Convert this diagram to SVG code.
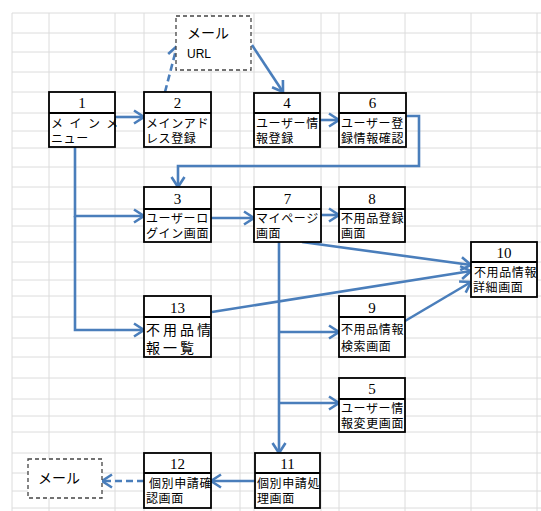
<svg xmlns="http://www.w3.org/2000/svg" width="541" height="511" viewBox="0 0 541 511">
<style>
.grid line{stroke:#dcdcdc;stroke-width:1}
.box{fill:#fff;stroke:#000;stroke-width:1.8}
.num{font-family:"Liberation Serif",serif;font-size:15px;text-anchor:middle;fill:#000}
.bt{font-family:"Liberation Sans","Noto Sans CJK JP",sans-serif;font-size:12px;letter-spacing:0.6px;fill:#000}
.mail{fill:#fff;stroke:#444;stroke-width:1.3;stroke-dasharray:4 3}
.mt{font-family:"Liberation Sans","Noto Sans CJK JP",sans-serif;font-size:14px;fill:#000}
.c{fill:none;stroke:#4a7ebb;stroke-width:2.6}
.d{stroke-dasharray:7 4}
</style>
<defs>
<marker id="a" markerUnits="userSpaceOnUse" markerWidth="16" markerHeight="16" refX="13" refY="8" orient="auto">
<path d="M3,1.5 L13,8 L3,14.5" fill="none" stroke="#4a7ebb" stroke-width="2.6"/>
</marker>
</defs>
<rect width="541" height="511" fill="#fff"/>
<g class="grid">
<line x1="12" y1="13" x2="12" y2="511"/><line x1="49" y1="13" x2="49" y2="511"/><line x1="115" y1="13" x2="115" y2="511"/><line x1="144" y1="13" x2="144" y2="511"/><line x1="211" y1="13" x2="211" y2="511"/><line x1="240" y1="13" x2="240" y2="511"/><line x1="254" y1="13" x2="254" y2="511"/><line x1="321" y1="13" x2="321" y2="511"/><line x1="339" y1="13" x2="339" y2="511"/><line x1="405" y1="13" x2="405" y2="511"/><line x1="471" y1="13" x2="471" y2="511"/><line x1="537" y1="13" x2="537" y2="511"/>
<line x1="12" y1="13" x2="541" y2="13"/><line x1="12" y1="33" x2="541" y2="33"/><line x1="12" y1="52" x2="541" y2="52"/><line x1="12" y1="72" x2="541" y2="72"/><line x1="12" y1="92" x2="541" y2="92"/><line x1="12" y1="113" x2="541" y2="113"/><line x1="12" y1="131" x2="541" y2="131"/><line x1="12" y1="148" x2="541" y2="148"/><line x1="12" y1="167" x2="541" y2="167"/><line x1="12" y1="187" x2="541" y2="187"/><line x1="12" y1="209" x2="541" y2="209"/><line x1="12" y1="226" x2="541" y2="226"/><line x1="12" y1="242" x2="541" y2="242"/><line x1="12" y1="262" x2="541" y2="262"/><line x1="12" y1="280" x2="541" y2="280"/><line x1="12" y1="296" x2="541" y2="296"/><line x1="12" y1="317" x2="541" y2="317"/><line x1="12" y1="338" x2="541" y2="338"/><line x1="12" y1="357" x2="541" y2="357"/><line x1="12" y1="378" x2="541" y2="378"/><line x1="12" y1="399" x2="541" y2="399"/><line x1="12" y1="416" x2="541" y2="416"/><line x1="12" y1="432" x2="541" y2="432"/><line x1="12" y1="453" x2="541" y2="453"/><line x1="12" y1="473" x2="541" y2="473"/><line x1="12" y1="491" x2="541" y2="491"/><line x1="12" y1="508" x2="541" y2="508"/>
</g>
<g id="connectors">
<line class="c" x1="115" y1="117" x2="144" y2="117" marker-end="url(#a)"/>
<line class="c d" x1="165" y1="92" x2="177" y2="46" marker-end="url(#a)"/>
<line class="c" x1="252" y1="45" x2="283" y2="92" marker-end="url(#a)"/>
<line class="c" x1="320" y1="120" x2="339" y2="120" marker-end="url(#a)"/>
<polyline class="c" points="406,116 419,116 419,166 178,166 178,187" marker-end="url(#a)"/>
<polyline class="c" points="75,147 75,216 144,216" marker-end="url(#a)"/>
<polyline class="c" points="75,216 75,330 144,330" marker-end="url(#a)"/>
<line class="c" x1="211" y1="218" x2="254" y2="218" marker-end="url(#a)"/>
<line class="c" x1="321" y1="215" x2="339" y2="215" marker-end="url(#a)"/>
<line class="c" x1="302" y1="242" x2="471" y2="265" marker-end="url(#a)"/>
<line class="c" x1="212" y1="312" x2="471" y2="271" marker-end="url(#a)"/>
<line class="c" x1="405" y1="321" x2="471" y2="282" marker-end="url(#a)"/>
<line class="c" x1="279" y1="242" x2="279" y2="453" marker-end="url(#a)"/>
<line class="c" x1="279" y1="332" x2="339" y2="332" marker-end="url(#a)"/>
<line class="c" x1="279" y1="403" x2="339" y2="403" marker-end="url(#a)"/>
<line class="c" x1="255" y1="481" x2="211" y2="481" marker-end="url(#a)"/>
<line class="c d" x1="144" y1="481" x2="102" y2="481" marker-end="url(#a)"/>
</g>
<g id="mail1">
<rect class="mail" x="176" y="16" width="75" height="54"/>
<text class="mt" x="187" y="38">メール</text>
<text x="187" y="58" font-family="Liberation Sans,sans-serif" font-size="12">URL</text>
</g>
<g id="mail2">
<rect class="mail" x="28" y="459" width="74" height="39"/>
<text class="mt" x="38" y="483">メール</text>
</g>
<g id="n1">
<rect class="box" x="49" y="92" width="66" height="55"/><line class="box" x1="49" y1="113" x2="115" y2="113"/>
<text class="num" x="82" y="108">1</text>
<text class="bt" x="51" y="128" style="letter-spacing:6.5px">メインメ</text>
<text class="bt" x="51" y="143">ニュー</text>
</g>
<g id="n2">
<rect class="box" x="144" y="92" width="67" height="55"/><line class="box" x1="144" y1="113" x2="211" y2="113"/>
<text class="num" x="177.5" y="108">2</text>
<text class="bt" x="146" y="128">メインアド</text>
<text class="bt" x="146" y="143">レス登録</text>
</g>
<g id="n4">
<rect class="box" x="254" y="93" width="66" height="54"/><line class="box" x1="254" y1="113" x2="320" y2="113"/>
<text class="num" x="287" y="108">4</text>
<text class="bt" x="256" y="128">ユーザー情</text>
<text class="bt" x="256" y="143">報登録</text>
</g>
<g id="n6">
<rect class="box" x="339" y="93" width="67" height="54"/><line class="box" x1="339" y1="113" x2="406" y2="113"/>
<text class="num" x="372.5" y="108">6</text>
<text class="bt" x="341" y="128">ユーザー登</text>
<text class="bt" x="341" y="143">録情報確認</text>
</g>
<g id="n3">
<rect class="box" x="144" y="187" width="67" height="55"/><line class="box" x1="144" y1="209" x2="211" y2="209"/>
<text class="num" x="177.5" y="204">3</text>
<text class="bt" x="146" y="223">ユーザーロ</text>
<text class="bt" x="146" y="238">グイン画面</text>
</g>
<g id="n7">
<rect class="box" x="254" y="187" width="67" height="55"/><line class="box" x1="254" y1="209" x2="321" y2="209"/>
<text class="num" x="287.5" y="204">7</text>
<text class="bt" x="256" y="223">マイページ</text>
<text class="bt" x="256" y="238">画面</text>
</g>
<g id="n8">
<rect class="box" x="339" y="187" width="66" height="55"/><line class="box" x1="339" y1="209" x2="405" y2="209"/>
<text class="num" x="372" y="204">8</text>
<text class="bt" x="341" y="223">不用品登録</text>
<text class="bt" x="341" y="238">画面</text>
</g>
<g id="n10">
<rect class="box" x="471" y="242" width="66" height="55"/><line class="box" x1="471" y1="262" x2="537" y2="262"/>
<text class="num" x="504" y="258">10</text>
<text class="bt" x="474" y="277">不用品情報</text>
<text class="bt" x="473" y="292">詳細画面</text>
</g>
<g id="n13">
<rect class="box" x="144" y="296" width="67" height="61"/><line class="box" x1="144" y1="317" x2="211" y2="317"/>
<text class="num" x="177.5" y="313">13</text>
<text class="bt" x="146" y="335" style="font-size:14px;letter-spacing:3px">不用品情</text>
<text class="bt" x="146" y="353" style="font-size:14px;letter-spacing:3px">報一覧</text>
</g>
<g id="n9">
<rect class="box" x="339" y="296" width="66" height="61"/><line class="box" x1="339" y1="317" x2="405" y2="317"/>
<text class="num" x="372" y="313">9</text>
<text class="bt" x="341" y="334">不用品情報</text>
<text class="bt" x="341" y="351">検索画面</text>
</g>
<g id="n5">
<rect class="box" x="339" y="378" width="66" height="54"/><line class="box" x1="339" y1="399" x2="405" y2="399"/>
<text class="num" x="372" y="394">5</text>
<text class="bt" x="341" y="413">ユーザー情</text>
<text class="bt" x="341" y="428">報変更画面</text>
</g>
<g id="n11">
<rect class="box" x="255" y="453" width="65" height="55"/><line class="box" x1="255" y1="473" x2="320" y2="473"/>
<text class="num" x="287.5" y="469">11</text>
<text class="bt" x="257" y="488">個別申請処</text>
<text class="bt" x="257" y="503">理画面</text>
</g>
<g id="n12">
<rect class="box" x="144" y="453" width="67" height="55"/><line class="box" x1="144" y1="473" x2="211" y2="473"/>
<text class="num" x="177.5" y="469">12</text>
<text class="bt" x="149" y="488">個別申請確</text>
<text class="bt" x="146" y="503">認画面</text>
</g>
</svg>
